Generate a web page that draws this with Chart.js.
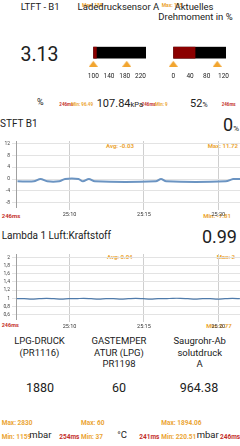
<!DOCTYPE html>
<html>
<head>
<meta charset="utf-8">
<script src="https://cdn.jsdelivr.net/npm/chart.js@4.4.1/dist/chart.umd.min.js"></script>
<style>
body{margin:0;background:#fff;width:240px;height:446px;overflow:hidden;position:relative;font-family:Roboto,sans-serif;color:#212121}
.t{position:absolute;white-space:nowrap;line-height:1;transform:translateY(-50%)}
.c{transform:translate(-50%,-50%)}
.o{color:#eba534;font-weight:bold}
.r{color:#c4302b;font-weight:bold}
.col{position:absolute;width:80px;text-align:center;font-size:9.5px;line-height:11.3px}
canvas{position:absolute}
</style>
</head>
<body>
<!-- top row -->
<div class="t o" style="left:82px;top:5px;font-size:5px">Max: 185</div>
<div class="t c" style="left:118.4px;top:7px;font-size:9.5px">Ladedrucksensor A</div>
<div class="t" style="left:20.7px;top:7px;font-size:9.5px">LTFT - B1</div>
<div class="t o" style="left:161.7px;top:5px;font-size:5px">Max: 105</div>
<div class="t c" style="left:194px;top:7px;font-size:9.5px">Aktuelles</div>
<div class="t c" style="left:195.5px;top:16.7px;font-size:9.5px">Drehmoment in %</div>
<div class="t" style="left:20.5px;top:54.7px;font-size:19.5px">3.13</div>

<div class="t" style="left:37px;top:102px;font-size:9px">%</div>
<div class="t r" style="left:59.3px;top:105px;font-size:4.5px">246ms</div>
<div class="t o" style="left:71.3px;top:105px;font-size:4.5px">Min: 96.49</div>
<div class="t" style="left:96.7px;top:102.5px;font-size:11px">107.84<span style="font-size:7.5px">kPa</span></div>
<div class="t r" style="left:141.7px;top:105px;font-size:4.5px">246ms</div>
<div class="t o" style="left:155px;top:105px;font-size:4.5px">Min: 9</div>
<div class="t" style="left:190px;top:102.5px;font-size:11px">52<span style="font-size:7px">%</span></div>
<div class="t r" style="left:221.7px;top:105px;font-size:4.5px">246ms</div>

<canvas id="boost" width="72" height="50" style="left:85px;top:40px"></canvas>
<canvas id="torque" width="72" height="50" style="left:165px;top:40px"></canvas>

<!-- STFT -->
<div class="t" style="left:0;top:123.5px;font-size:10px">STFT B1</div>
<div class="t" style="right:1px;top:125px;font-size:18px">0<span style="font-size:8px">%</span></div>
<div class="t o" style="left:106px;top:146px;font-size:6px">Avg: -0.03</div>
<div class="t o" style="right:2px;top:146px;font-size:6px">Max: 11.72</div>
<div class="t r" style="left:1.7px;top:216.3px;font-size:6px">246ms</div>
<div class="t o" style="right:9px;top:216px;font-size:6px">Min: -7.81</div>
<canvas id="stft" width="240" height="86" style="left:0;top:136px"></canvas>

<!-- Lambda -->
<div class="t" style="left:1.7px;top:235.8px;font-size:10px">Lambda 1 Luft:Kraftstoff</div>
<div class="t" style="right:3px;top:236.7px;font-size:18px">0.99</div>
<div class="t o" style="left:107px;top:257.3px;font-size:6px">Avg: 0.04</div>
<div class="t o" style="right:5px;top:257px;font-size:6px">Max: 2</div>
<div class="t r" style="left:1.7px;top:325.7px;font-size:5.5px">246ms</div>
<div class="t o" style="right:8.3px;top:325.7px;font-size:6px">Min: 0.77</div>
<canvas id="lambda" width="240" height="85" style="left:0;top:249px"></canvas>

<!-- bottom -->
<div class="col" style="left:-0.5px;top:335.4px">LPG-DRUCK<br>(PR1116)</div>
<div class="col" style="left:79px;top:335.4px">GASTEMPER<br>ATUR (LPG)<br>PR1198</div>
<div class="col" style="left:159.7px;top:335.4px">Saugrohr-Ab<br>solutdruck<br>A</div>
<div class="t c" style="left:40px;top:388.3px;font-size:12.5px">1880</div>
<div class="t c" style="left:119px;top:388.3px;font-size:12.5px">60</div>
<div class="t c" style="left:199px;top:388.3px;font-size:12.5px">964.38</div>

<div class="t o" style="left:1.7px;top:423.3px;font-size:6.5px">Max: 2830</div>
<div class="t o" style="left:1.7px;top:436.7px;font-size:6.5px">Min: 1159</div>
<div class="t" style="left:29.3px;top:435px;font-size:9.5px">mbar</div>
<div class="t r" style="left:59.3px;top:436.7px;font-size:6.5px">254ms</div>
<div class="t o" style="left:81px;top:423.3px;font-size:6.5px">Max: 60</div>
<div class="t o" style="left:81px;top:436.7px;font-size:6.5px">Min: 37</div>
<div class="t" style="left:117.3px;top:435px;font-size:9.5px">°C</div>
<div class="t r" style="left:139.3px;top:436.7px;font-size:6.5px">241ms</div>
<div class="t o" style="left:161.3px;top:423.3px;font-size:6.5px">Max: 1894.06</div>
<div class="t o" style="left:161.3px;top:436.7px;font-size:6.5px">Min: 220.51</div>
<div class="t" style="left:196.7px;top:435px;font-size:9.5px">mbar</div>
<div class="t r" style="left:220px;top:436.7px;font-size:6.5px">246ms</div>

<script>
// --- data ---
var timeTicks = [10, 15, 20];

var stftTime = [6.5, 7.6, 8.05, 8.5, 9.3, 9.7, 10.6, 10.9, 11.3, 11.7, 15.8, 16.15, 16.5, 20.5, 21.0, 21.46];
var stftVal  = [-0.8, -0.8, 0, -0.8, -0.8, 0, 0, -0.8, 0, -0.8, -0.8, 0, -0.8, -0.8, 0, 0];
var stftTicks = [12, 10, 8, 6, 4, 2, 0, -2, -4, -6, -8];

var lambdaTime = [6.45, 6.95, 7.45, 7.95, 8.45, 8.95, 9.45, 9.95, 10.45, 10.95, 11.45, 11.95, 12.45, 12.95, 13.45, 13.95,
                  14.45, 14.95, 15.45, 15.95, 16.45, 16.95, 17.45, 17.95, 18.45, 18.95, 19.45, 19.95, 20.45, 20.95, 21.45];
var lambdaVal  = [0.99, 0.99, 0.98, 0.99, 1.0, 0.99, 0.98, 0.99, 0.99, 1.0, 0.99, 0.98, 0.99, 0.99, 0.98, 0.99,
                  1.0, 0.99, 0.98, 0.99, 0.99, 1.0, 1.0, 0.99, 0.98, 0.99, 0.99, 0.98, 0.99, 1.0, 0.99];
var lambdaTicks = [2, 1.8, 1.6, 1.4, 1.2, 1, 0.8, 0.6];

var boostTicks = [100, 140, 180, 220];
var boostRange = [100, 234];
var boostValue = 107.84;
var boostMarks = [100, 185];

var torqueTicks = [0, 40, 80, 120];
var torqueRange = [0, 126];
var torqueValue = 52;
var torqueMarks = [0, 105];

Chart.defaults.font.family = 'Roboto';
Chart.defaults.animation = false;

// flat orange triangle used as marker
var tri = document.createElement('canvas');
tri.width = 9; tri.height = 6;
var tc = tri.getContext('2d');
tc.fillStyle = '#f2a52f';
tc.beginPath(); tc.moveTo(4.5, 0); tc.lineTo(9, 6); tc.lineTo(0, 6); tc.closePath(); tc.fill();

function gauge(id, range, value, marks, ticks) {
  new Chart(id, {
    type: 'bar',
    data: {
      labels: ['bar', 'mark'],
      datasets: [
        { data: [[range[0], value], null], backgroundColor: '#8b0000', grouped: false, barPercentage: 1, categoryPercentage: 1 },
        { data: [range, null], backgroundColor: '#000', grouped: false, barPercentage: 1, categoryPercentage: 1 },
        { type: 'scatter', indexAxis: 'x', data: marks.map(function (m) { return { x: m, y: 'mark' }; }),
          pointStyle: tri, pointRadius: 4.5, clip: false }
      ]
    },
    options: {
      indexAxis: 'y',
      responsive: false,
      layout: { padding: { left: 8.3, right: 11, top: 6.7, bottom: 0 } },
      plugins: { legend: { display: false }, tooltip: { enabled: false } },
      scales: {
        x: {
          type: 'linear', min: range[0], max: range[1],
          afterBuildTicks: function (s) { s.ticks = ticks.map(function (v) { return { value: v }; }); },
          afterFit: function (s) { s.height = 20.5; },
          ticks: { font: { size: 6.5 }, color: '#222', padding: 2.5, maxRotation: 0, autoSkip: false },
          grid: { display: false, drawTicks: false, tickLength: 0 }, border: { display: false }
        },
        y: { type: 'category', offset: true, display: false }
      }
    }
  });
}

gauge('boost', boostRange, boostValue, boostMarks, boostTicks);
gauge('torque', torqueRange, torqueValue, torqueMarks, torqueTicks);

function lineChart(id, xs, ys, yTicks, yMin, yMax, color, width, fmt) {
  new Chart(id, {
    type: 'line',
    data: {
      datasets: [{
        data: xs.map(function (x, i) { return { x: x, y: ys[i] }; }),
        borderColor: color, borderWidth: width, pointRadius: 0, tension: 0.3, fill: false
      }]
    },
    options: {
      responsive: false,
      layout: { padding: { top: 5, left: 0, right: 0, bottom: 0 } },
      plugins: { legend: { display: false }, tooltip: { enabled: false } },
      scales: {
        x: {
          type: 'linear', min: 6.4, max: 21.46,
          afterBuildTicks: function (s) { s.ticks = timeTicks.map(function (v) { return { value: v }; }); },
          afterFit: function (s) { s.height = 15; },
          ticks: { font: { size: 5.5 }, color: '#333', padding: 1, maxRotation: 0, autoSkip: false,
                   callback: function (v) { return '25:' + v; } },
          grid: { color: '#cfcfcf', tickLength: 3 },
          border: { display: false }
        },
        y: {
          min: yMin, max: yMax,
          afterBuildTicks: function (s) { s.ticks = yTicks.map(function (v) { return { value: v }; }); },
          afterFit: function (s) { s.width = 16; },
          ticks: { font: { size: 5 }, color: '#444', padding: 2, callback: fmt },
          grid: { color: '#e3e3e3', tickLength: 4 },
          border: { color: '#a0a0a0' }
        }
      }
    }
  });
}

lineChart('stft', stftTime, stftVal, stftTicks, -9.5, 12.9, '#6b94c2', 2,
  function (v) { return String(v); });
lineChart('lambda', lambdaTime, lambdaVal, lambdaTicks, 0.495, 2.08, '#4f7bab', 1.2,
  function (v) { return String(Math.round(v * 10) / 10).replace('.', ','); });
</script>
</body>
</html>
